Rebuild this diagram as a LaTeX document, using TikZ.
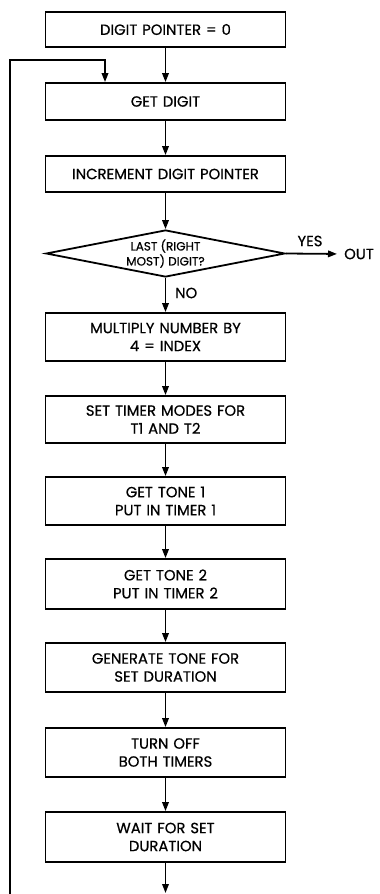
\documentclass[tikz,border=0pt]{standalone}
\usepackage{fontspec}
\setmainfont{Poppins}[FakeBold=0.6]
\usetikzlibrary{arrows.meta,shapes.geometric}
\begin{document}
\begin{tikzpicture}[x=1pt,y=-1pt,
  every node/.style={font=\fontsize{14.8}{18}\selectfont},
  box/.style={draw,line width=1.8pt,minimum width=240pt,inner sep=0pt,align=center,text width=236pt},
  flow/.style={line width=1.8pt,-{Triangle[length=9pt,width=6.5pt]}},
  lbl/.style={inner sep=0pt}]
\useasboundingbox (0,0) rectangle (380,894);
\node[box,minimum height=35pt] (b1) at (165.5,29.5) {DIGIT POINTER = 0};
\node[box,minimum height=37pt] (b2) at (165.5,101.5) {GET DIGIT};
\node[box,minimum height=36pt] (b3) at (165.5,174) {INCREMENT DIGIT POINTER};
\node[draw,line width=1.8pt,diamond,aspect=5.1,minimum width=239pt,minimum height=47pt,inner sep=0pt,align=center,font=\fontsize{12}{15}\selectfont] (d) at (165.5,253.5) {LAST (RIGHT\\MOST) DIGIT?};
\node[box,minimum height=48pt] (b4) at (165.5,337) {MULTIPLY NUMBER BY\\4 = INDEX};
\node[box,minimum height=47pt] (b5) at (165.5,419.5) {SET TIMER MODES FOR\\T1 AND T2};
\node[box,minimum height=48pt] (b6) at (165.5,501) {GET TONE 1\\PUT IN TIMER 1};
\node[box,minimum height=50pt] (b7) at (165.5,584) {GET TONE 2\\PUT IN TIMER 2};
\node[box,minimum height=49pt] (b8) at (165.5,667.5) {GENERATE TONE FOR\\SET DURATION};
\node[box,minimum height=49pt] (b9) at (165.5,752.5) {TURN OFF\\BOTH TIMERS};
\node[box,minimum height=50pt] (b10) at (165.5,837) {WAIT FOR SET\\DURATION};
\node[lbl,anchor=west] (out) at (344,254) {OUT};
\node[lbl] (yes) at (310,241) {YES};
\node[lbl,anchor=west] (no) at (175,293) {NO};
\coordinate (end) at (165.5,893);
\coordinate (lb) at (10,894);
\coordinate (lt) at (10,60);
\coordinate (lr) at (105,60);
\draw[flow] (b1) -- (b2);
\draw[flow] (b2) -- (b3);
\draw[flow] (b3) -- (d);
\draw[flow] (d) -- (b4);
\draw[flow] (b4) -- (b5);
\draw[flow] (b5) -- (b6);
\draw[flow] (b6) -- (b7);
\draw[flow] (b7) -- (b8);
\draw[flow] (b8) -- (b9);
\draw[flow] (b9) -- (b10);
\draw[flow] (b10) -- (end);
\draw[flow,shorten >=7pt] (d.east) -- (out.west);
\draw[flow] (lb) -- (lt) -- (lr) -- (lr |- b2.north);
\end{tikzpicture}
\end{document}
